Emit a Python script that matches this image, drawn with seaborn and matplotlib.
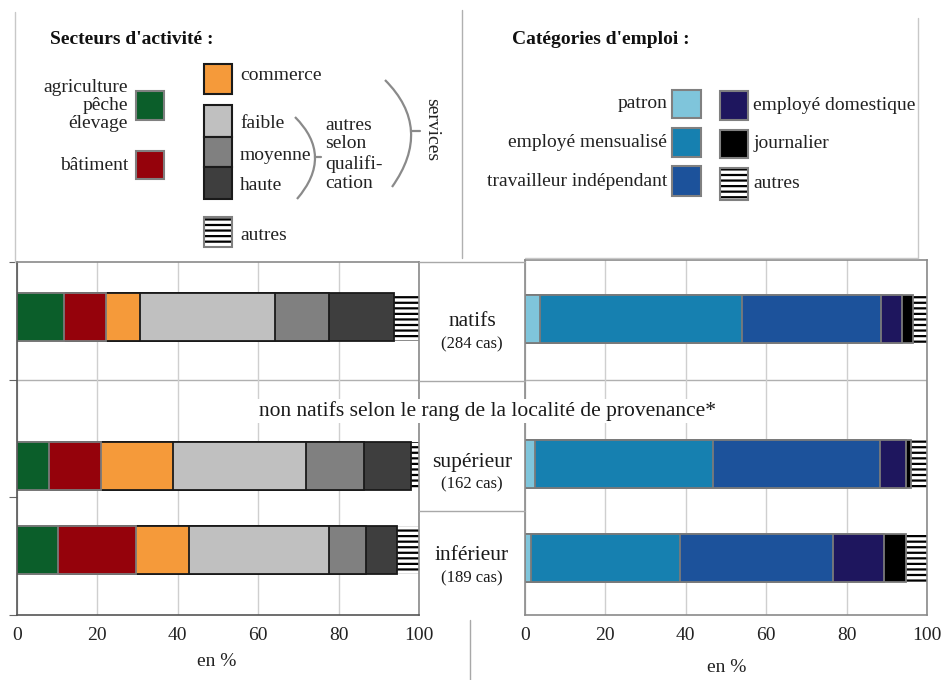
import numpy as np
import pandas as pd
import matplotlib
matplotlib.use("Agg")
import matplotlib.pyplot as plt
from matplotlib.patches import Rectangle, PathPatch
from matplotlib.path import Path
import seaborn as sns

# ---------------- data ----------------
groups = ["natifs", "supérieur", "inférieur"]
group_counts = ["(284 cas)", "(162 cas)", "(189 cas)"]

sect_names = ["agriculture pêche élevage", "bâtiment", "commerce",
              "faible", "moyenne", "haute", "autres"]
sect_agri = [11.7, 7.9, 10.3]
sect_bat = [10.5, 13.1, 19.4]
sect_comm = [8.3, 17.9, 13.0]
sect_faible = [33.7, 33.0, 34.8]
sect_moy = [13.3, 14.3, 9.2]
sect_haute = [16.2, 11.9, 7.9]
sect_autres = [6.3, 1.9, 5.4]

emp_names = ["patron", "employé mensualisé", "travailleur indépendant",
             "employé domestique", "journalier", "autres"]
emp_patron = [3.8, 2.4, 1.5]
emp_mens = [50.2, 44.3, 37.0]
emp_indep = [34.6, 41.7, 38.2]
emp_dom = [5.2, 6.4, 12.7]
emp_journ = [2.7, 1.3, 5.4]
emp_autres = [3.5, 3.9, 5.2]

x_ticks = [0, 20, 40, 60, 80, 100]

# ---------------- styles ----------------
sect_colors = ["#0b5e2a", "#95020b", "#f59a3a", "#c0c0c0", "#808080", "#3e3e3e", "white"]
sect_edges = ["#7a7a7a", "#7a7a7a", "#1a1a1a", "#1a1a1a", "#1a1a1a", "#1a1a1a", "black"]
emp_colors = ["#7fc5db", "#1680b0", "#1c529b", "#1e165e", "#000000", "white"]
emp_edges = ["#7a7a7a"] * 5 + ["black"]

sns.set_style("white")
plt.rcParams["font.family"] = ["Liberation Serif", "DejaVu Serif"]
plt.rcParams["hatch.linewidth"] = 1.6

W, H = 946, 680
fig = plt.figure(figsize=(W / 100, H / 100), dpi=100)
fig.patch.set_facecolor("white")


def px_rect(x0, y0, x1, y1):
    return [x0 / W, 1 - y1 / H, (x1 - x0) / W, (y1 - y0) / H]


axL = fig.add_axes(px_rect(17, 262, 419, 615))
axR = fig.add_axes(px_rect(525, 260, 927, 615))
ov = fig.add_axes([0, 0, 1, 1], zorder=5)
ov.set_xlim(0, W)
ov.set_ylim(H, 0)
ov.axis("off")

# bar centre positions (layout, in pixel-like units of the y axis)
posL = [317, 466, 550]
posR = [319, 464, 558]
bar_h = 48


def stacked(ax, positions, segs, colors, edges):
    segs = np.array(segs, dtype=float)
    cums = np.cumsum(segs, axis=0)
    mind = np.min(np.diff(sorted(positions)))
    for i in reversed(range(len(segs))):
        df = pd.DataFrame({"pos": positions, "val": cums[i]})
        if colors[i] == "white":
            kw = dict(color="white", edgecolor="black", linewidth=0, hatch="---")
        else:
            kw = dict(color=colors[i], edgecolor=edges[i], linewidth=1.3)
        sns.barplot(data=df, x="val", y="pos", orient="h", native_scale=True,
                    width=bar_h / mind, errorbar=None, saturation=1, ax=ax, **kw)


stacked(axL, posL, [sect_agri, sect_bat, sect_comm, sect_faible, sect_moy,
                    sect_haute, sect_autres], sect_colors, sect_edges)
stacked(axR, posR, [emp_patron, emp_mens, emp_indep, emp_dom, emp_journ,
                    emp_autres], emp_colors, emp_edges)

for ax, top in ((axL, 262), (axR, 260)):
    ax.set_xlim(0, 100)
    ax.set_ylim(615, top)
    ax.set_xticks(x_ticks)
    ax.set_xticklabels([str(t) for t in x_ticks], fontsize=14)
    ax.tick_params(axis="x", length=0, pad=9, colors="#222222")
    ax.set_xlabel("")
    ax.set_ylabel("")
    ax.grid(axis="x", color="#cfcfcf", linewidth=1)
    ax.grid(axis="y", visible=False)
    ax.set_axisbelow(True)
    ax.axhline(380, color="#b0b0b0", linewidth=1, zorder=0.5)
    for s in ax.spines.values():
        s.set_visible(True)
        s.set_color("#8a8a8a")
        s.set_linewidth(1.2)

axL.set_yticks([262, 380, 497, 615])
axL.set_yticklabels([])
axL.tick_params(axis="y", length=6, direction="out", left=True, color="#666666")
axL.spines["left"].set_color("#555555")
axL.spines["bottom"].set_color("#555555")
axR.set_yticks([])

# ---------------- overlay: middle box ----------------
line_c = "#a8a8a8"
ov.plot([419, 525], [262, 262], color=line_c, lw=1)
ov.plot([419, 525], [381, 381], color=line_c, lw=1)
ov.plot([419, 525], [511, 511], color=line_c, lw=1)
ov.plot([470, 470], [620, 680], color=line_c, lw=1)

mid_x = 472
for g, c, y in zip(groups, group_counts, [322, 462, 556]):
    ov.text(mid_x, y, g, ha="center", va="center", fontsize=15.5, color="#1a1a1a")
    ov.text(mid_x, y + 22, c, ha="center", va="center", fontsize=12, color="#1a1a1a")

ov.text(487, 411, "non natifs selon le rang de la localité de provenance*",
        ha="center", va="center", fontsize=15.5, color="#1a1a1a",
        bbox=dict(facecolor="white", edgecolor="none", pad=1.5))

ov.text(217, 662, "en %", ha="center", va="center", fontsize=14, color="#222222")
ov.text(727, 668, "en %", ha="center", va="center", fontsize=14, color="#222222")

# ---------------- legend boxes ----------------
box_c = "#c8c8c8"
ov.plot([15, 15], [12, 262], color=box_c, lw=1)
ov.plot([462, 462], [10, 258], color="#b0b0b0", lw=1)
ov.plot([525, 918], [258, 258], color=box_c, lw=1)
ov.plot([918, 918], [18, 258], color=box_c, lw=1)


def swatch(x0, y0, x1, y1, fc, ec="#808080", hatch=None, lw=1.5):
    if hatch:
        ov.add_patch(Rectangle((x0, y0), x1 - x0, y1 - y0, facecolor="white",
                               edgecolor="black", hatch=hatch, linewidth=0))
        ov.add_patch(Rectangle((x0, y0), x1 - x0, y1 - y0, facecolor="none",
                               edgecolor=ec, linewidth=lw))
    else:
        ov.add_patch(Rectangle((x0, y0), x1 - x0, y1 - y0, facecolor=fc,
                               edgecolor=ec, linewidth=lw))


fs = 14
# left legend
ov.text(50, 40, "Secteurs d'activité :", ha="left", va="center", fontsize=14,
        fontweight="bold", color="#111111")
for t, y in zip(["agriculture", "pêche", "élevage"], [87, 105, 124]):
    ov.text(128, y, t, ha="right", va="center", fontsize=fs, color="#222222")
swatch(136, 91, 164, 120, sect_colors[0])
ov.text(128, 165, "bâtiment", ha="right", va="center", fontsize=fs, color="#222222")
swatch(136, 151, 164, 179, sect_colors[1])

swatch(204, 64, 232, 94, sect_colors[2], ec="#1a1a1a")
ov.text(240, 76, "commerce", ha="left", va="center", fontsize=fs, color="#222222")
swatch(204, 105, 232, 137, sect_colors[3], ec="#1a1a1a")
swatch(204, 137, 232, 167, sect_colors[4], ec="#1a1a1a")
swatch(204, 167, 232, 199, sect_colors[5], ec="#1a1a1a")
for t, y in zip(["faible", "moyenne", "haute"], [124, 155, 186]):
    ov.text(240, y, t, ha="left", va="center", fontsize=fs, color="#222222")
swatch(204, 217, 232, 247, "white", ec="#808080", hatch="---")
ov.text(240, 235, "autres", ha="left", va="center", fontsize=fs, color="#222222")


def bracket(p0, c, p2, tick_end):
    path = Path([p0, c, p2], [Path.MOVETO, Path.CURVE3, Path.CURVE3])
    ov.add_patch(PathPatch(path, facecolor="none", edgecolor="#8a8a8a", lw=1.6))
    peak = (0.25 * p0[0] + 0.5 * c[0] + 0.25 * p2[0],
            0.25 * p0[1] + 0.5 * c[1] + 0.25 * p2[1])
    ov.plot([peak[0], tick_end], [peak[1], peak[1]], color="#8a8a8a", lw=1.6)


bracket((295, 117), (334, 156), (297, 199), 321)
for t, y in zip(["autres", "selon", "qualifi-", "cation"], [125, 144, 164, 184]):
    ov.text(325, y, t, ha="left", va="center", fontsize=fs, color="#222222")
bracket((385, 80), (433.5, 128.5), (392, 187), 420)
ov.text(432, 130, "services", ha="center", va="center", rotation=270,
        fontsize=fs, color="#222222")

# right legend
ov.text(512, 40, "Catégories d'emploi :", ha="left", va="center", fontsize=14,
        fontweight="bold", color="#111111")
left_rows = [(90, 118), (128, 157), (166, 196)]
for name, col, (y0, y1) in zip(emp_names[:3], emp_colors[:3], left_rows):
    swatch(672, y0, 701, y1, col)
    ov.text(667, (y0 + y1) / 2, name, ha="right", va="center", fontsize=fs,
            color="#222222")
right_rows = [(91, 120), (130, 158), (168, 200)]
for name, col, (y0, y1) in zip(emp_names[3:], emp_colors[3:], right_rows):
    if col == "white":
        swatch(720, y0, 748, y1, "white", hatch="---")
    else:
        swatch(720, y0, 748, y1, col)
    ov.text(753, (y0 + y1) / 2, name, ha="left", va="center", fontsize=fs,
            color="#222222")

fig.savefig("out.png", dpi=100, facecolor="white")
